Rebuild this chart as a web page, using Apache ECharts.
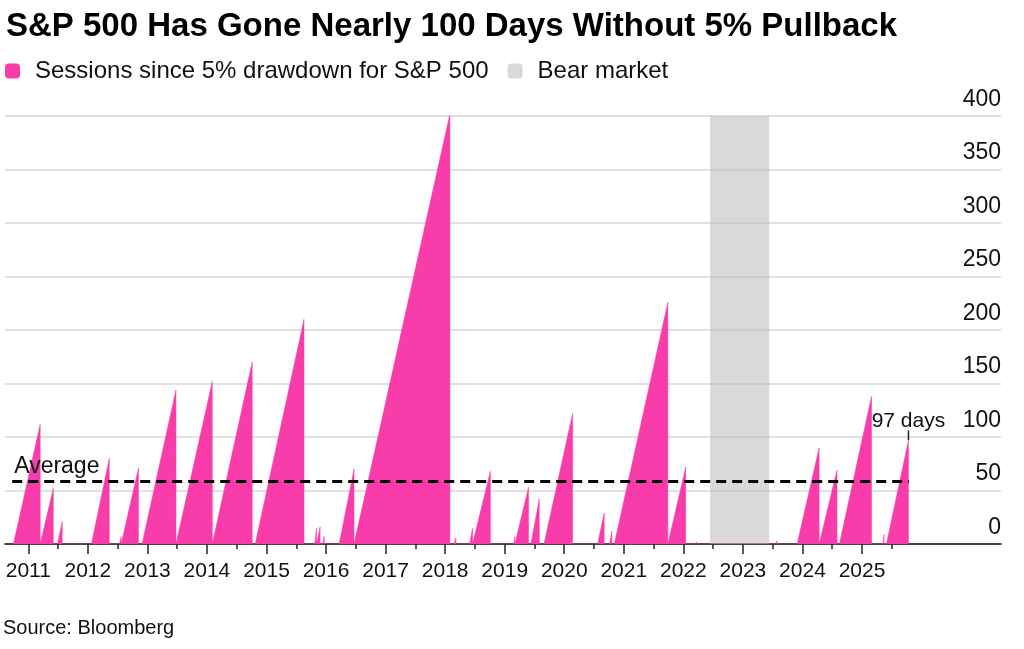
<!DOCTYPE html>
<html>
<head>
<meta charset="utf-8">
<script src="https://cdn.jsdelivr.net/npm/echarts@6/dist/echarts.min.js"></script>
<style>
html,body{margin:0;padding:0;background:#fff;}
#chart{width:1024px;height:649px;}
</style>
</head>
<body>
<div id="chart"></div>
<script>
// Episodes: streak start (decimal year), streak end / peak (decimal year), sessions at peak
const startYears = [2010.75, 2011.21, 2011.49, 2012.06, 2012.53, 2012.58, 2012.91, 2013.50, 2014.11, 2014.81,
  2015.81, 2015.86, 2015.94, 2016.22, 2016.49, 2018.15, 2018.41, 2018.49, 2019.15, 2019.20,
  2019.44, 2019.66, 2020.56, 2020.76, 2020.84, 2021.76, 2022.20, 2023.55, 2023.91, 2024.31,
  2024.62, 2025.35, 2025.41];
const peakYears = [2011.20, 2011.42, 2011.57, 2012.36, 2012.56, 2012.85, 2013.48, 2014.09, 2014.76, 2015.63,
  2015.84, 2015.90, 2015.97, 2016.47, 2018.08, 2018.18, 2018.46, 2018.76, 2019.17, 2019.40,
  2019.58, 2020.14, 2020.67, 2020.80, 2021.74, 2022.04, 2022.22, 2023.57, 2024.28, 2024.58,
  2025.16, 2025.37, 2025.78];
const peakSessions = [112, 52, 21, 80, 7, 71, 144, 152, 170, 210,
  15, 16, 7, 70, 402, 6, 15, 68, 7, 53,
  42, 122, 29, 12, 226, 72, 2, 3, 90, 69,
  138, 9, 97];
const bearMarket = [2022.45, 2023.44];
const averageSessions = 59;
const averageSpan = [2010.73, 2025.79];
const currentStreak = { year: 2025.78, value: 97, label: '97 days' };
const yearLabels = [2011,2012,2013,2014,2015,2016,2017,2018,2019,2020,2021,2022,2023,2024,2025];
const halfYearTicks = [2011.5,2012.5,2013.5,2014.5,2015.5,2016.5,2017.5,2018.5,2019.5,2020.5,2021.5,2022.5,2023.5,2024.5,2025.5];

const seriesData = [];
for (let i = 0; i < startYears.length; i++) {
  seriesData.push([startYears[i], 0]);
  seriesData.push([peakYears[i], peakSessions[i]]);
  seriesData.push([peakYears[i], 0]);
}

const FONT = '"Liberation Sans", Arial, sans-serif';
const PINK = '#f83ca9';
const TXT = '#111111';
const xMin = 2010.609, xMax = 2027.334;

const chart = echarts.init(document.getElementById('chart'), null, {renderer: 'canvas'});
chart.setOption({
  animation: false,
  backgroundColor: '#ffffff',
  textStyle: { fontFamily: FONT },
  title: {
    text: 'S&P 500 Has Gone Nearly 100 Days Without 5% Pullback',
    left: 1, top: 5,
    textStyle: { fontFamily: FONT, fontSize: 33, fontWeight: 'bold', color: '#000' }
  },
  legend: {
    left: 5, top: 59, padding: 0,
    itemWidth: 15, itemHeight: 15, itemGap: 19,
    icon: 'roundRect',
    textStyle: { fontFamily: FONT, fontSize: 24, color: TXT, padding: [0, 0, 0, 10] },
    data: [
      { name: 'Sessions since 5% drawdown for S&P 500', itemStyle: { color: PINK } },
      { name: 'Bear market', itemStyle: { color: '#d9d9d9' } }
    ]
  },
  grid: { left: 5, right: 23, top: 116, bottom: 105, containLabel: false },
  xAxis: [
    {
      type: 'value', min: xMin, max: xMax,
      axisLine: { show: true, lineStyle: { color: '#111', width: 1.5 } },
      axisTick: { show: true, customValues: yearLabels, length: 10, lineStyle: { color: '#222', width: 1.5 } },
      axisLabel: { show: true, customValues: yearLabels, formatter: v => String(Math.round(v)),
        fontFamily: FONT, fontSize: 21, color: TXT, margin: 17 },
      splitLine: { show: false }
    },
    {
      type: 'value', min: xMin, max: xMax, position: 'bottom',
      axisLine: { show: false },
      axisTick: { show: true, customValues: halfYearTicks, length: 5, lineStyle: { color: '#222', width: 1.5 } },
      axisLabel: { show: false },
      splitLine: { show: false }
    }
  ],
  yAxis: {
    type: 'value', position: 'right', min: 0, max: 400, interval: 50,
    axisLine: { show: false }, axisTick: { show: false },
    splitLine: { show: true, lineStyle: { color: '#d6d6d6', width: 1.5 } },
    axisLabel: { inside: true, margin: 0, fontFamily: FONT, fontSize: 23, color: TXT,
      verticalAlign: 'bottom', padding: [0, 0, 5, 0] }
  },
  series: [
    {
      name: 'Bear market', type: 'line', data: [], xAxisIndex: 0,
      itemStyle: { color: '#d9d9d9' },
      markArea: {
        silent: true,
        itemStyle: { color: 'rgba(190,190,190,0.58)' },
        data: [[{ xAxis: bearMarket[0], yAxis: 0 }, { xAxis: bearMarket[1], yAxis: 400 }]]
      }
    },
    {
      name: 'Sessions since 5% drawdown for S&P 500', type: 'line', xAxisIndex: 0,
      data: seriesData, showSymbol: false, symbol: 'none',
      lineStyle: { width: 0.5, color: PINK },
      itemStyle: { color: PINK },
      areaStyle: { color: PINK, opacity: 1 },
      z: 3
    },
    {
      name: 'Average', type: 'line', data: [], xAxisIndex: 0,
      markLine: {
        silent: true, symbol: ['none', 'none'],
        lineStyle: { color: '#000', width: 3, type: [10, 6] },
        label: { show: true, position: 'insideStartTop', formatter: 'Average',
          fontFamily: FONT, fontSize: 23, color: TXT, distance: [2, 3] },
        data: [[{ coord: [averageSpan[0], averageSessions] }, { coord: [averageSpan[1], averageSessions] }]]
      },
      z: 5
    },
    {
      name: 'Current', type: 'line', xAxisIndex: 0,
      data: [
        [currentStreak.year, currentStreak.value],
        [currentStreak.year, currentStreak.value + 9]
      ],
      symbol: 'none', lineStyle: { color: '#222', width: 1.5 },
      markPoint: {
        silent: true, symbol: 'circle', symbolSize: 0,
        label: { show: true, position: 'top', distance: -1, formatter: currentStreak.label,
          fontFamily: FONT, fontSize: 21, color: TXT },
        data: [{ coord: [currentStreak.year, currentStreak.value + 9] }]
      },
      z: 6
    }
  ],
  graphic: [
    { type: 'text', left: 3, top: 618,
      style: { text: 'Source: Bloomberg', fontFamily: FONT, fontSize: 20, fill: TXT } }
  ]
});
</script>
</body>
</html>
